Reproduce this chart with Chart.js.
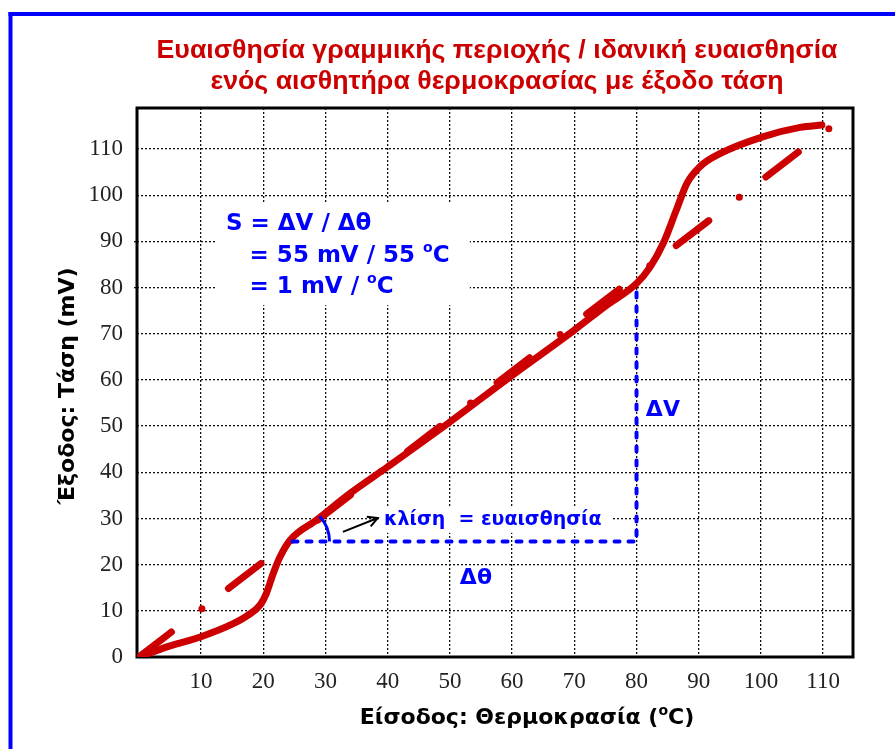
<!DOCTYPE html>
<html>
<head>
<meta charset="utf-8">
<script src="https://cdn.jsdelivr.net/npm/chart.js@4.4.1/dist/chart.umd.min.js"></script>
<style>
  html, body { margin: 0; padding: 0; background: #fff; }
  #wrap { width: 895px; height: 749px; position: relative; }
</style>
</head>
<body>
<div id="wrap"><canvas id="chart"></canvas></div>
<script>
// Values (temperature in oC, voltage in mV)

// real sensor response (solid curve)
const sensorTemp = [0, 5, 10, 15, 17.5, 19.5, 20.5, 21.6, 22.7, 24.3, 28.6, 33.9, 40, 50, 60, 70, 75, 80, 82.2, 84.3, 86.4, 88.1, 90.2, 93.4, 100.4, 106.3, 109.8]
const sensorVolt = [0, 2.4, 4.4, 7.1, 9.0, 11.3, 13.8, 18.1, 21.7, 25.3, 29.7, 35.4, 41.2, 50.9, 61, 70.8, 76, 80.9, 84.5, 89.6, 96.8, 102.6, 106.2, 109, 112.7, 114.7, 115.2]

// ideal sensitivity (dash-dot line)
const idealTemp = [0, 111]
const idealVolt = [0, 114.5]

// slope triangle (ΔV / Δθ)
const slopeTemp = [24.7, 80, 80]
const slopeVolt = [25, 25, 80]

const xTicks = [0, 10, 20, 30, 40, 50, 60, 70, 80, 90, 100, 110]
const yTicks = [0, 10, 20, 30, 40, 50, 60, 70, 80, 90, 100, 110]

const titleLines = ["Ευαισθησία γραμμικής περιοχής / ιδανική ευαισθησία", "ενός αισθητήρα θερμοκρασίας με έξοδο τάση"]
const xTitle = [{ t: "Είσοδος: Θερμοκρασία (" }, { t: "o", sup: true }, { t: "C)" }]
const yTitle = "Έξοδος: Τάση (mV)"
const formulaLines = [
  [{ t: "S = ΔV / Δθ" }],
  [{ t: "= 55 mV / 55 " }, { t: "o", sup: true }, { t: "C" }],
  [{ t: "= 1 mV / " }, { t: "o", sup: true }, { t: "C" }]
]
const slopeText = "κλίση  = ευαισθησία"

const RED = "#cc0000"
const BLUE = "#0000ff"
const SANS = "'DejaVu Sans', Verdana, sans-serif"
const SERIF = "'Liberation Serif', 'Times New Roman', serif"

const toPoints = (xs, ys) => xs.map((x, i) => ({ x: x, y: ys[i] }))

// draws text made of normal and superscript parts, left aligned, middle baseline
function drawRich(ctx, parts, x, y, size) {
  let cx = x
  parts.forEach((p) => {
    const s = p.sup ? Math.round(size * 0.62) : size
    ctx.font = "bold " + s + "px " + SANS
    ctx.fillText(p.t, cx, p.sup ? y - size * 0.32 : y)
    cx += ctx.measureText(p.t).width
  })
  return cx - x
}

function richWidth(ctx, parts, size) {
  let w = 0
  parts.forEach((p) => {
    const s = p.sup ? Math.round(size * 0.62) : size
    ctx.font = "bold " + s + "px " + SANS
    w += ctx.measureText(p.t).width
  })
  return w
}

const decorations = {
  id: "decorations",
  beforeDraw(chart) {
    const ctx = chart.ctx
    ctx.save()
    ctx.fillStyle = "#fff"
    ctx.fillRect(0, 0, chart.width, chart.height)
    // blue frame (only top and left edges are inside the picture)
    ctx.fillStyle = BLUE
    ctx.fillRect(8.5, 12, chart.width, 4)
    ctx.fillRect(8.5, 12, 4, chart.height)
    ctx.restore()
  },
  beforeDatasetsDraw(chart) {
    const { ctx, chartArea: a, scales: { x, y } } = chart
    ctx.save()
    // white boxes hiding the grid behind the notes
    ctx.fillStyle = "#fff"
    ctx.fillRect(x.getPixelForValue(12.5), y.getPixelForValue(98.3), x.getPixelForValue(53.2) - x.getPixelForValue(12.5), y.getPixelForValue(76.2) - y.getPixelForValue(98.3))
    ctx.fillRect(x.getPixelForValue(38.7), y.getPixelForValue(32.5), x.getPixelForValue(76.2) - x.getPixelForValue(38.7), y.getPixelForValue(26.9) - y.getPixelForValue(32.5))
    // plot frame
    ctx.strokeStyle = "#000"
    ctx.lineWidth = 3
    ctx.strokeRect(a.left, a.top, a.right - a.left, a.bottom - a.top)
    ctx.restore()
  },
  afterDatasetsDraw(chart) {
    const { ctx, scales: { x, y } } = chart
    ctx.save()
    ctx.textBaseline = "middle"

    // 1) title, stretched a little to the reference width
    ctx.fillStyle = RED
    ctx.textAlign = "center"
    ctx.font = "bold 25px 'Liberation Sans', Arial, sans-serif"
    const sx = 681 / ctx.measureText(titleLines[0]).width
    ctx.save()
    ctx.translate(497, 0)
    ctx.scale(sx, 1)
    ctx.fillText(titleLines[0], 0, 51)
    ctx.fillText(titleLines[1], 0, 82)
    ctx.restore()

    // 2) axis titles
    ctx.fillStyle = "#000"
    ctx.textAlign = "left"
    const xw = richWidth(ctx, xTitle, 22)
    drawRich(ctx, xTitle, 527 - xw / 2, 718, 22)
    ctx.save()
    ctx.translate(68, 386)
    ctx.rotate(-Math.PI / 2)
    ctx.textAlign = "center"
    ctx.font = "bold 22px " + SANS
    ctx.fillText(yTitle, 0, 0)
    ctx.restore()

    // 3) sensitivity formula
    ctx.fillStyle = BLUE
    ctx.textAlign = "left"
    drawRich(ctx, formulaLines[0], x.getPixelForValue(14.0), y.getPixelForValue(93.8), 23)
    drawRich(ctx, formulaLines[1], x.getPixelForValue(17.8), y.getPixelForValue(86.8), 23)
    drawRich(ctx, formulaLines[2], x.getPixelForValue(17.8), y.getPixelForValue(80.1), 23)

    // 4) slope notes
    ctx.font = "bold 19px " + SANS
    ctx.fillText(slopeText, x.getPixelForValue(39.4), y.getPixelForValue(29.7))
    ctx.font = "bold 22px " + SANS
    ctx.fillText("ΔV", x.getPixelForValue(81.5), y.getPixelForValue(53.5))
    ctx.fillText("Δθ", x.getPixelForValue(51.6), y.getPixelForValue(17.1))

    // 5) angle mark
    ctx.strokeStyle = BLUE
    ctx.lineWidth = 3
    ctx.beginPath()
    ctx.arc(x.getPixelForValue(24.7), y.getPixelForValue(25), 37, -0.75, 0)
    ctx.stroke()

    // 6) arrow to the note
    const x1 = x.getPixelForValue(32.8), y1 = y.getPixelForValue(27.1)
    const x2 = x.getPixelForValue(38.4), y2 = y.getPixelForValue(30.1)
    const ang = Math.atan2(y2 - y1, x2 - x1)
    ctx.strokeStyle = "#000"
    ctx.lineWidth = 2
    ctx.beginPath()
    ctx.moveTo(x1, y1)
    ctx.lineTo(x2, y2)
    ctx.moveTo(x2 - 11 * Math.cos(ang - 0.5), y2 - 11 * Math.sin(ang - 0.5))
    ctx.lineTo(x2, y2)
    ctx.lineTo(x2 - 11 * Math.cos(ang + 0.5), y2 - 11 * Math.sin(ang + 0.5))
    ctx.stroke()
    ctx.restore()
  }
}

const gridColor = (c) => (c.tick && c.tick.value === 0 ? "transparent" : "#111")

new Chart(document.getElementById("chart"), {
  type: "scatter",
  data: {
    datasets: [
      {
        label: "Αισθητήρας",
        data: toPoints(sensorTemp, sensorVolt),
        showLine: true,
        borderColor: RED,
        borderWidth: 7,
        borderCapStyle: "round",
        borderJoinStyle: "round",
        cubicInterpolationMode: "monotone",
        pointRadius: 0,
        order: 2
      },
      {
        label: "Ιδανική",
        data: toPoints(idealTemp, idealVolt),
        showLine: true,
        borderColor: RED,
        borderWidth: 7,
        borderCapStyle: "round",
        borderDash: [41, 38.4, 0, 33.4],
        pointRadius: 0,
        order: 3
      },
      {
        label: "Κλίση",
        data: toPoints(slopeTemp, slopeVolt),
        showLine: true,
        borderColor: BLUE,
        borderWidth: 4,
        borderCapStyle: "round",
        borderDash: [5, 9],
        pointRadius: 0,
        order: 1
      }
    ]
  },
  options: {
    responsive: true,
    maintainAspectRatio: false,
    animation: false,
    layout: { padding: { top: 108, right: 42, left: 0, bottom: 0 } },
    plugins: {
      legend: { display: false },
      tooltip: { enabled: false },
      title: { display: false }
    },
    scales: {
      x: {
        type: "linear",
        min: -0.3,
        max: 114.8,
        afterFit: (s) => { s.height = 92 },
        afterBuildTicks: (s) => { s.ticks = xTicks.map((v) => ({ value: v })) },
        border: { display: false, dash: [2, 2] },
        grid: { color: gridColor, lineWidth: 1.3, drawTicks: false },
        ticks: {
          padding: 11,
          color: "#222",
          font: { family: SERIF, size: 23 },
          callback: (v) => (v === 0 ? "" : v)
        }
      },
      y: {
        type: "linear",
        min: 0,
        max: 118.9,
        afterFit: (s) => { s.width = 137 },
        afterBuildTicks: (s) => { s.ticks = yTicks.map((v) => ({ value: v })) },
        border: { display: false, dash: [2, 2] },
        grid: {
          color: gridColor,
          lineWidth: 1.3,
          drawTicks: true,
          tickLength: 3,
          tickBorderDash: [2, 2],
          tickColor: (c) => (c.tick && (c.tick.value === 80 || c.tick.value === 90) ? "#111" : "transparent")
        },
        ticks: {
          padding: 11,
          color: "#222",
          font: { family: SERIF, size: 23 }
        }
      }
    }
  },
  plugins: [decorations]
})
</script>
</body>
</html>
